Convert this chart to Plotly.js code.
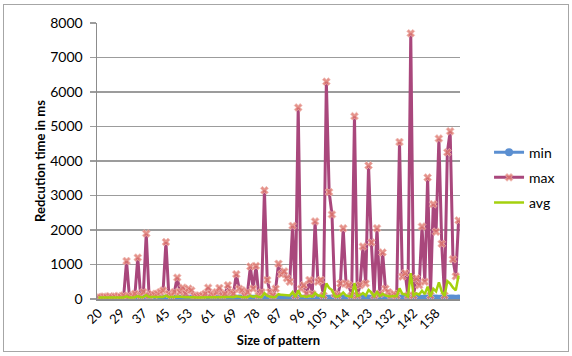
<!DOCTYPE html>
<html>
<head>
<meta charset="utf-8">
<script src="https://cdn.plot.ly/plotly-3.0.1.min.js"></script>
<style>
  html, body { margin: 0; padding: 0; background: #ffffff; }
  #wrap { position: relative; width: 572px; height: 356px; }
  #chart { position: absolute; left: 0; top: 0; width: 572px; height: 356px; }
  #frame { position: absolute; left: 3px; top: 4px; width: 564px; height: 346px;
           border: 1.5px solid #a6a6a6; pointer-events: none; }
</style>
</head>
<body>
<div id="wrap">
  <div id="chart"></div>
  <div id="frame"></div>
</div>
<script>
// Size of pattern (category axis)
const sizes = [
  20,21,22,23,24,25,26,28,
  29,30,31,32,33,34,35,36,
  37,38,39,40,41,42,43,44,
  45,46,47,48,49,50,51,52,
  53,54,55,56,57,58,59,60,
  61,62,63,64,65,66,67,68,
  69,70,71,72,73,74,75,77,
  78,79,80,81,82,83,84,86,
  87,88,89,90,91,92,94,95,
  96,97,98,99,100,101,103,104,
  105,106,107,108,109,110,112,113,
  114,115,116,117,118,119,121,122,
  123,124,125,126,127,128,130,131,
  132,133,134,135,137,138,140,141,
  142,144,146,148,150,152,154,156,
  158,159,160,161,162,163,164,165,166
];

// Labelled categories on the x axis
const tickLabels = [20,29,37,45,53,61,69,78,87,96,105,114,123,132,142,158];

// min reduction time (ms)
const minVals = [
  10,12,10,15,10,12,10,15,
  12,10,15,12,10,15,12,10,
  15,12,10,12,15,10,12,10,
  15,12,10,15,12,10,12,15,
  10,12,10,15,12,10,12,15,
  10,12,15,10,12,15,10,12,
  15,10,12,15,10,12,15,10,
  12,15,10,12,15,10,12,15,
  10,12,15,10,12,15,10,12,
  15,10,12,15,10,12,15,10,
  12,15,10,12,15,10,12,15,
  10,12,15,10,12,15,10,12,
  15,10,12,15,10,12,15,10,
  12,15,10,12,15,10,12,15,
  10,12,15,10,12,15,10,12,
  15,10,12,15,10,12,15,10,12
];

// max reduction time (ms)
const maxVals = [
  60,50,70,60,80,50,70,90,
  60,100,1100,80,100,150,1200,100,
  200,1900,100,150,120,150,200,250,
  1650,150,100,200,620,200,330,150,
  300,250,100,80,100,100,150,330,
  150,100,200,320,100,150,400,200,
  150,720,300,250,100,200,940,300,
  960,100,200,3150,550,200,100,300,
  1020,720,800,600,500,2120,100,5550,
  300,400,150,550,150,2250,500,550,
  100,6300,3100,2450,150,100,450,2050,
  450,400,100,5300,100,400,1520,450,
  3870,1640,100,2050,150,1350,300,200,
  100,150,100,4550,650,750,100,7700,
  100,600,400,2100,500,3520,100,2750,
  1950,4650,1600,100,4250,4860,1150,660,2280
];

// avg reduction time (ms)
const avgVals = [
  40,35,40,38,42,40,45,40,
  42,45,80,45,45,50,85,50,
  55,110,55,50,50,55,55,60,
  100,55,50,55,70,55,60,50,
  55,55,50,45,50,50,50,60,
  50,50,55,60,50,50,60,55,
  50,80,60,55,50,55,90,60,
  90,55,60,170,90,60,50,60,
  140,120,120,110,100,200,60,250,
  80,80,60,90,70,170,100,100,
  70,450,320,260,90,70,110,190,
  100,90,60,460,90,110,170,100,
  260,190,80,200,90,150,100,90,
  70,90,80,310,150,130,70,750,
  100,160,130,240,140,360,70,300,
  220,480,220,90,520,450,330,250,680
];

const xs = sizes.map(String);
const font = "Lato, 'Open Sans', 'DejaVu Sans', sans-serif";

const traces = [
  {
    x: xs, y: minVals, name: 'min', type: 'scatter', mode: 'lines+markers',
    legendgroup: 'a',
    line: { color: '#5b8fd1', width: 3 },
    marker: { symbol: 'circle', size: 8, color: '#5b8fd1' }
  },
  {
    x: xs, y: maxVals, name: 'max', type: 'scatter', mode: 'lines+markers',
    legendgroup: 'b',
    line: { color: '#a9477c', width: 3 },
    marker: { symbol: 'x', size: 7, color: 'rgba(222,120,110,0.8)',
              line: { color: 'rgba(240,185,180,0.9)', width: 0.8 } }
  },
  {
    x: xs, y: avgVals, name: 'avg', type: 'scatter', mode: 'lines',
    legendgroup: 'c',
    line: { color: '#a4d10e', width: 2.5 }
  }
];

const layout = {
  width: 572, height: 356,
  margin: { l: 97, r: 92, t: 23, b: 57 },
  paper_bgcolor: '#ffffff', plot_bgcolor: '#ffffff',
  font: { family: font, size: 13, color: '#000000' },
  showlegend: true,
  legend: {
    x: 1.08, xanchor: 'left', y: 0.44, yanchor: 'middle',
    font: { family: font, size: 14, color: '#000000' },
    tracegroupgap: 4, bgcolor: 'rgba(0,0,0,0)'
  },
  xaxis: {
    type: 'category',
    range: [-0.5, sizes.length - 0.5],
    tickmode: 'array',
    tickvals: tickLabels.map(String),
    ticktext: tickLabels.map(String),
    tickangle: -45,
    ticks: '', showgrid: false, zeroline: false,
    showline: true, linecolor: '#8c8c8c', linewidth: 1.5,
    tickfont: { family: font, size: 13, color: '#000000' },
    title: { text: '<b>Size of pattern</b>', standoff: 4,
             font: { family: font, size: 13, color: '#000000' } }
  },
  yaxis: {
    range: [0, 8000], dtick: 1000, tick0: 0,
    showgrid: true, gridcolor: '#9c9c9c', gridwidth: 1.3,
    zeroline: false,
    showline: true, linecolor: '#8c8c8c', linewidth: 1.5,
    ticks: 'outside', ticklen: 6, tickcolor: '#9c9c9c', tickwidth: 1.3,
    ticklabelstandoff: 4,
    tickfont: { family: font, size: 14, color: '#000000' },
    title: { text: '<b>Redcution time in ms</b>', standoff: 1,
             font: { family: font, size: 13, color: '#000000' } }
  }
};

Plotly.newPlot('chart', traces, layout, { displayModeBar: false, staticPlot: true });
</script>
</body>
</html>
